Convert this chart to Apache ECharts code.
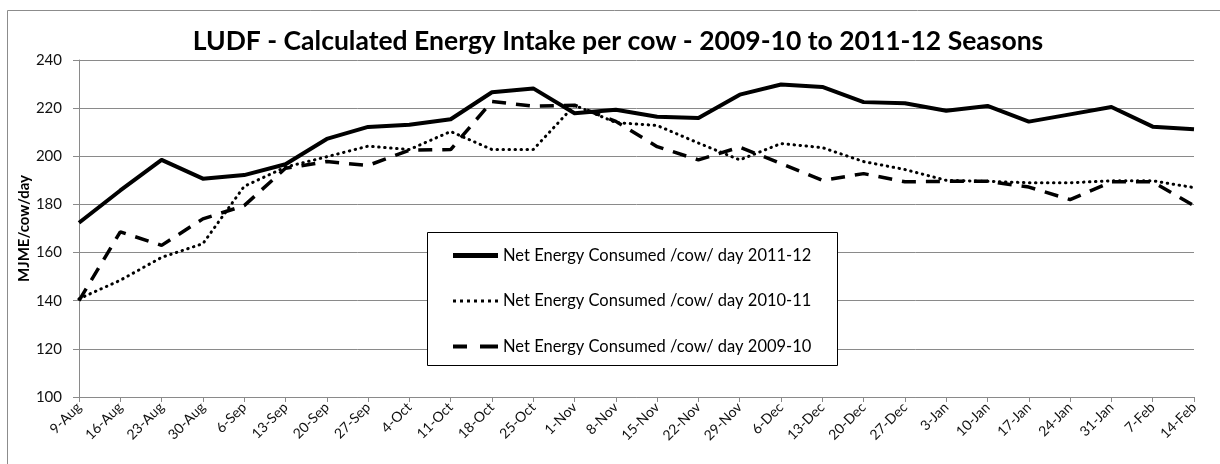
<!DOCTYPE html>
<html>
<head>
<meta charset="utf-8">
<script src="https://cdn.jsdelivr.net/npm/echarts@6/dist/echarts.min.js"></script>
<style>
  html, body { margin: 0; padding: 0; background: #fff; }
  #chart { width: 1220px; height: 464px; }
</style>
</head>
<body>
<div id="chart"></div>
<script>
// Weekly dates (season week starting)
const weeks = ['9-Aug','16-Aug','23-Aug','30-Aug','6-Sep','13-Sep','20-Sep','27-Sep','4-Oct','11-Oct',
  '18-Oct','25-Oct','1-Nov','8-Nov','15-Nov','22-Nov','29-Nov','6-Dec','13-Dec','20-Dec',
  '27-Dec','3-Jan','10-Jan','17-Jan','24-Jan','31-Jan','7-Feb','14-Feb'];

// Net energy consumed per cow per day (MJME)
const season2011 = [172.4, 185.8, 198.5, 190.7, 192.2, 196.7, 207.2, 212.2, 213.1, 215.4,
  226.6, 228.2, 217.9, 219.3, 216.4, 215.9, 225.6, 229.8, 228.8, 222.5,
  222.0, 218.9, 220.9, 214.4, 217.4, 220.5, 212.3, 211.2];
const season2010 = [140.8, 148.5, 158.0, 163.7, 187.5, 195.5, 199.8, 204.2, 202.8, 210.3,
  202.8, 202.8, 221.2, 214.0, 212.8, 205.5, 198.5, 205.3, 203.6, 197.8,
  194.5, 190.0, 189.6, 189.0, 189.0, 189.8, 189.8, 187.0];
const season2009 = [140.0, 168.6, 163.0, 174.0, 179.5, 195.0, 197.8, 196.2, 202.5, 202.8,
  222.8, 220.8, 221.2, 214.5, 204.0, 198.5, 203.8, 197.0, 190.0, 192.8,
  189.4, 189.6, 189.6, 187.2, 182.0, 189.4, 189.4, 179.5];

const seriesNames = [
  'Net Energy Consumed /cow/ day 2011-12',
  'Net Energy Consumed /cow/ day 2010-11',
  'Net Energy Consumed /cow/ day 2009-10'
];

// Legend keys drawn as paths so the line weights show clearly
const iconSolid = 'path://M0,0h45v5h-45z';
const iconDotted = 'path://M0,0h3v3h-3zM7,0h3v3h-3zM14,0h3v3h-3zM21,0h3v3h-3zM28,0h3v3h-3zM35,0h3v3h-3zM42,0h3v3h-3z';
const iconDashed = 'path://M0,0h14v4h-14zM27,0h18v4h-18z';

const font = 'Lato, "Open Sans", sans-serif';
const gridGrey = '#8a8a8a';

const chart = echarts.init(document.getElementById('chart'), null, { renderer: 'canvas' });

chart.setOption({
  animation: false,
  backgroundColor: '#fff',
  title: {
    text: 'LUDF - Calculated Energy Intake per cow - 2009-10 to 2011-12 Seasons',
    left: 613, top: 23,
    textAlign: 'center',
    textStyle: { fontFamily: font, fontWeight: 'bold', fontSize: 26.5, color: '#000' }
  },
  graphic: [
    { type: 'rect', z: 0, silent: true,
      shape: { x: 7.5, y: 10.5, width: 1240, height: 480 },
      style: { fill: null, stroke: '#8c8c8c', lineWidth: 1 } },
    { type: 'rect', z: 10, silent: true,
      shape: { x: 427.5, y: 232.5, width: 410, height: 133 },
      style: { fill: '#fff', stroke: '#000', lineWidth: 1 } }
  ],
  legend: {
    z: 20,
    orient: 'vertical',
    left: 453, top: 247,
    itemWidth: 45, itemHeight: 16, itemGap: 28.5,
    padding: 0,
    symbolKeepAspect: true,
    textStyle: { fontFamily: font, fontSize: 16.5, color: '#000' },
    data: [
      { name: seriesNames[0], icon: iconSolid },
      { name: seriesNames[1], icon: iconDotted },
      { name: seriesNames[2], icon: iconDashed }
    ]
  },
  grid: { left: 79, right: 26, top: 60, bottom: 67, containLabel: false },
  xAxis: {
    type: 'category',
    data: weeks,
    boundaryGap: false,
    axisLine: { lineStyle: { color: gridGrey, width: 1 } },
    axisTick: { interval: 0, length: 5, lineStyle: { color: gridGrey } },
    axisLabel: { interval: 0, rotate: 45, margin: 8, fontFamily: font, fontSize: 14, color: '#111' },
    splitLine: { show: false }
  },
  yAxis: {
    type: 'value',
    min: 100, max: 240, interval: 20,
    name: 'MJME/cow/day',
    nameLocation: 'middle',
    nameGap: 47,
    nameMoveOverlap: false,
    nameTextStyle: { fontFamily: font, fontWeight: 'bold', fontSize: 15, color: '#000' },
    axisLine: { show: true, lineStyle: { color: gridGrey, width: 1 } },
    axisTick: { show: true, length: 6, lineStyle: { color: gridGrey } },
    axisLabel: { margin: 17, fontFamily: font, fontSize: 15, color: '#111' },
    splitLine: { lineStyle: { color: gridGrey, width: 1 } }
  },
  series: [
    { name: seriesNames[0], type: 'line', data: season2011, symbol: 'none', z: 4,
      lineStyle: { color: '#000', width: 4, type: 'solid', join: 'round' },
      itemStyle: { color: '#000' } },
    { name: seriesNames[1], type: 'line', data: season2010, symbol: 'none', z: 3,
      lineStyle: { color: '#000', width: 3, type: [0.5, 5.5], cap: 'round' },
      itemStyle: { color: '#000' } },
    { name: seriesNames[2], type: 'line', data: season2009, symbol: 'none', z: 3,
      lineStyle: { color: '#000', width: 3.5, type: [14, 10], cap: 'butt' },
      itemStyle: { color: '#000' } }
  ]
});
</script>
</body>
</html>
